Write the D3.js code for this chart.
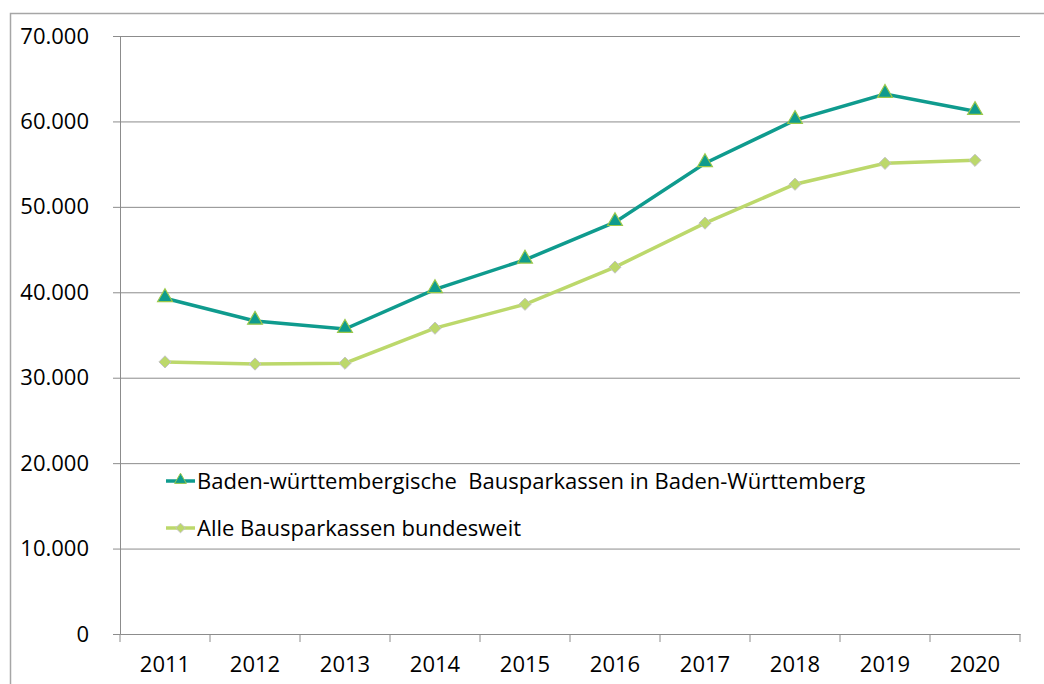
<!DOCTYPE html>
<html>
<head>
<meta charset="utf-8">
<script src="https://cdn.jsdelivr.net/npm/d3@7"></script>
<style>
  body { margin: 0; background: #fff; }
  text { font-family: "Open Sans", sans-serif; fill: #000; }
</style>
</head>
<body>
<svg id="chart"></svg>
<script>
const years = ["2011", "2012", "2013", "2014", "2015", "2016", "2017", "2018", "2019", "2020"];
const bwValues = [39300, 36650, 35700, 40350, 43800, 48200, 55100, 60150, 63200, 61200];
const bundValues = [31850, 31600, 31700, 35800, 38600, 42950, 48100, 52650, 55100, 55450];
const yTicks = [0, 10000, 20000, 30000, 40000, 50000, 60000, 70000];
const seriesNames = ["Baden-württembergische  Bausparkassen in Baden-Württemberg", "Alle Bausparkassen bundesweit"];

const width = 1044;
const height = 684;
const margin = { top: 36, right: 24, bottom: 50, left: 120 };

const svg = d3.select("#chart")
    .attr("width", width)
    .attr("height", height);

// outer frame (only top and left edges are visible)
svg.append("path")
    .attr("d", `M10.5,${height} V13.5 H${width}`)
    .attr("fill", "none")
    .attr("stroke", "#a6a6a6")
    .attr("stroke-width", 1.5);

const x = d3.scaleBand()
    .domain(years)
    .range([margin.left, width - margin.right]);

const y = d3.scaleLinear()
    .domain([0, 70000])
    .range([height - margin.bottom, margin.top]);

const fmt = d => d === 0 ? "0" : d3.format(",")(d).replace(/,/g, ".");

// gridlines + y axis
const yAxis = svg.append("g")
    .attr("transform", `translate(${margin.left},0)`)
    .call(d3.axisLeft(y).tickValues(yTicks).tickSize(7).tickPadding(24).tickFormat(fmt));
yAxis.select(".domain").attr("stroke", "#8c8c8c");
yAxis.selectAll(".tick line").attr("stroke", "#8c8c8c");
yAxis.selectAll(".tick text").attr("font-size", 22).attr("font-family", "Open Sans");
yAxis.selectAll(".tick").filter(d => d > 0).append("line")
    .attr("x1", 0)
    .attr("x2", width - margin.right - margin.left)
    .attr("stroke", "#8c8c8c");

// x axis
const xAxis = svg.append("g")
    .attr("transform", `translate(0,${height - margin.bottom})`)
    .call(d3.axisBottom(x).tickSize(0).tickPadding(22));
xAxis.select(".domain").attr("stroke", "#8c8c8c");
xAxis.selectAll(".tick text").attr("font-size", 22).attr("font-family", "Open Sans");
const bounds = years.map(d => x(d)).concat([x(years[years.length - 1]) + x.bandwidth()]);
xAxis.selectAll(".bound")
    .data(bounds)
    .enter()
    .append("line")
    .attr("x1", d => d)
    .attr("x2", d => d)
    .attr("y1", 0)
    .attr("y2", 8)
    .attr("stroke", "#8c8c8c");

const cx = d => x(d) + x.bandwidth() / 2;
const line = d3.line()
    .x(d => cx(d.year))
    .y(d => y(d.value));

const bwData = years.map((yr, i) => ({ year: yr, value: bwValues[i] }));
const bundData = years.map((yr, i) => ({ year: yr, value: bundValues[i] }));

const colBW = "#0f9b8e";
const colBund = "#bcd86b";

svg.append("path")
    .datum(bundData)
    .attr("d", line)
    .attr("fill", "none")
    .attr("stroke", colBund)
    .attr("stroke-width", 3.5);

svg.append("path")
    .datum(bwData)
    .attr("d", line)
    .attr("fill", "none")
    .attr("stroke", colBW)
    .attr("stroke-width", 3.5);

const diamond = d3.symbol().type(d3.symbolDiamond2).size(95);
const triangle = d3.symbol().type(d3.symbolTriangle).size(95);

svg.selectAll(".bundMark")
    .data(bundData)
    .enter()
    .append("path")
    .attr("transform", d => `translate(${cx(d.year)},${y(d.value)})`)
    .attr("d", diamond)
    .attr("fill", colBund)
    .attr("stroke", "#c3c3c3")
    .attr("stroke-width", 1);

svg.selectAll(".bwMark")
    .data(bwData)
    .enter()
    .append("path")
    .attr("transform", d => `translate(${cx(d.year)},${y(d.value) - 1})`)
    .attr("d", triangle)
    .attr("fill", colBW)
    .attr("stroke", "#9bc84a")
    .attr("stroke-width", 1.2);

// legend
const legend = svg.append("g").attr("transform", "translate(166,481)");
const legendItems = [
    { name: seriesNames[0], color: colBW, stroke: "#9bc84a", dy: -1 },
    { name: seriesNames[1], color: colBund, stroke: "#c3c3c3", dy: 0 }
];
legendItems.forEach((it, i) => {
    const g = legend.append("g").attr("transform", `translate(0,${i * 47})`);
    g.append("line")
        .attr("x1", 0).attr("x2", 29)
        .attr("stroke", it.color)
        .attr("stroke-width", 3.5);
    g.append("path")
        .attr("transform", `translate(14.5,${it.dy})`)
        .attr("d", d3.symbol().type(i === 0 ? d3.symbolTriangle : d3.symbolDiamond2).size(60))
        .attr("fill", it.color)
        .attr("stroke", it.stroke)
        .attr("stroke-width", 1);
    g.append("text")
        .attr("x", 31)
        .attr("dy", "0.35em")
        .attr("font-size", 22)
        .style("white-space", "pre")
        .text(it.name);
});
</script>
</body>
</html>
